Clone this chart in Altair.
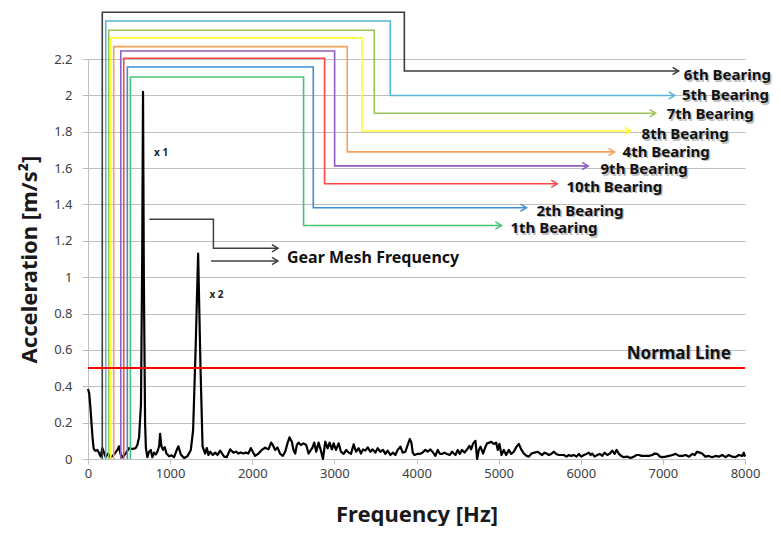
import altair as alt
import pandas as pd

FONT = "Noto Sans"

# ---- spectrum (Hz, m/s^2) ----
freq = [0, 15, 30, 42, 55, 68, 80, 93, 114, 134, 154, 175, 195, 215, 244, 276, 317, 358, 378, 398,
        418, 459, 500, 540, 581, 601, 622, 645, 660, 670, 680, 695, 705, 723, 744, 764, 784, 805, 825, 845,
        866, 878, 894, 914, 935, 955, 987, 1016, 1048, 1081, 1101, 1130, 1170, 1211, 1252, 1280, 1310, 1341, 1370, 1395,
        1426, 1447, 1467, 1487, 1520, 1548, 1577, 1609, 1633, 1658, 1690, 1731, 1751, 1771, 1804, 1832, 1860, 1893, 1921, 1953,
        1982, 2006, 2035, 2075, 2116, 2157, 2197, 2230, 2250, 2279, 2307, 2340, 2372, 2401, 2429, 2453, 2482, 2502, 2523, 2543,
        2563, 2592, 2624, 2657, 2685, 2714, 2730, 2755, 2779, 2808, 2836, 2861, 2889, 2918, 2942, 2970, 2991, 3019, 3052, 3080,
        3113, 3145, 3174, 3202, 3235, 3263, 3296, 3324, 3349, 3377, 3406, 3438, 3466, 3499, 3527, 3560, 3592, 3621, 3649, 3682,
        3714, 3743, 3771, 3804, 3832, 3865, 3893, 3918, 3938, 3954, 3975, 4007, 4040, 4072, 4108, 4137, 4169, 4202, 4230, 4259,
        4283, 4311, 4340, 4372, 4405, 4433, 4454, 4474, 4502, 4527, 4555, 4584, 4616, 4645, 4665, 4690, 4718, 4738, 4759, 4779,
        4811, 4840, 4860, 4889, 4909, 4941, 4970, 4990, 5010, 5035, 5063, 5092, 5124, 5153, 5185, 5218, 5246, 5275, 5307, 5340,
        5368, 5401, 5437, 5478, 5502, 5530, 5559, 5583, 5612, 5640, 5672, 5701, 5733, 5762, 5794, 5827, 5855, 5884, 5916, 5949,
        5977, 6006, 6038, 6071, 6099, 6120, 6140, 6168, 6201, 6233, 6262, 6290, 6323, 6355, 6384, 6412, 6436, 6465, 6493, 6526,
        6566, 6607, 6648, 6680, 6709, 6741, 6778, 6831, 6872, 6900, 6932, 6965, 6994, 7034, 7075, 7116, 7156, 7197, 7238, 7278,
        7319, 7359, 7388, 7416, 7449, 7477, 7518, 7559, 7600, 7641, 7681, 7722, 7763, 7803, 7844, 7885, 7925, 7966, 7986, 8000]
accel = [0.385, 0.36, 0.28, 0.2, 0.12, 0.06, 0.048, 0.045, 0.05, 0.033, 0.013, 0.06, 0.035, 0.01, 0.03, 0.008, 0.025, 0.05, 0.07, 0.025,
         0.01, 0.03, 0.06, 0.055, 0.06, 0.077, 0.12, 0.3, 1.1, 2.02, 1.0, 0.2, 0.06, 0.01, 0.04, 0.05, 0.01, 0.035, 0.025, 0.04,
         0.07, 0.138, 0.07, 0.05, 0.065, 0.03, 0.015, 0.02, 0.01, 0.05, 0.07, 0.025, 0.005, 0.015, 0.05, 0.16, 0.6, 1.13, 0.5, 0.07,
         0.03, 0.06, 0.022, 0.04, 0.022, 0.035, 0.022, 0.046, 0.03, 0.013, 0.01, 0.053, 0.044, 0.035, 0.04, 0.03, 0.036, 0.03, 0.035, 0.03,
         0.06, 0.04, 0.017, 0.03, 0.05, 0.062, 0.053, 0.09, 0.077, 0.05, 0.064, 0.028, 0.017, 0.04, 0.086, 0.119, 0.095, 0.05, 0.03, 0.077,
         0.09, 0.077, 0.086, 0.077, 0.03, 0.05, 0.06, 0.09, 0.04, 0.09, 0.046, 0.0, 0.095, 0.059, 0.09, 0.053, 0.086, 0.05, 0.086, 0.04,
         0.028, 0.05, 0.035, 0.028, 0.081, 0.04, 0.059, 0.03, 0.053, 0.046, 0.064, 0.04, 0.053, 0.035, 0.059, 0.04, 0.05, 0.028, 0.046, 0.022,
         0.035, 0.022, 0.05, 0.068, 0.035, 0.04, 0.077, 0.11, 0.09, 0.035, 0.022, 0.028, 0.028, 0.035, 0.05, 0.04, 0.053, 0.035, 0.017, 0.05,
         0.03, 0.028, 0.035, 0.028, 0.022, 0.04, 0.03, 0.022, 0.05, 0.028, 0.05, 0.035, 0.053, 0.072, 0.053, 0.086, 0.1, 0.0, 0.05, 0.068,
         0.03, 0.068, 0.086, 0.09, 0.095, 0.083, 0.09, 0.05, 0.083, 0.022, 0.05, 0.022, 0.05, 0.028, 0.04, 0.068, 0.083, 0.053, 0.03, 0.017,
         0.013, 0.03, 0.035, 0.04, 0.03, 0.022, 0.035, 0.03, 0.022, 0.028, 0.04, 0.028, 0.022, 0.022, 0.022, 0.013, 0.022, 0.017, 0.022, 0.013,
         0.028, 0.013, 0.022, 0.028, 0.035, 0.022, 0.03, 0.013, 0.022, 0.028, 0.017, 0.035, 0.022, 0.03, 0.046, 0.028, 0.05, 0.028, 0.017, 0.01,
         0.013, 0.006, 0.013, 0.022, 0.022, 0.017, 0.017, 0.017, 0.022, 0.03, 0.028, 0.013, 0.01, 0.013, 0.017, 0.022, 0.028, 0.017, 0.017, 0.022,
         0.013, 0.028, 0.022, 0.04, 0.035, 0.03, 0.013, 0.017, 0.01, 0.017, 0.013, 0.022, 0.01, 0.022, 0.013, 0.01, 0.022, 0.017, 0.035, 0.013]

# ---- bearing callouts ----
bearing_names = ["6th Bearing", "5th Bearing", "7th Bearing", "8th Bearing", "4th Bearing",
                 "9th Bearing", "10th Bearing", "2th Bearing", "1th Bearing"]
bearing_freq = [174, 216, 252, 277, 313, 399, 435, 479, 516]
bearing_top = [2.457, 2.409, 2.358, 2.316, 2.268, 2.244, 2.204, 2.156, 2.101]
bearing_elbow = [3852, 3681, 3486, 3336, 3157, 3003, 2881, 2743, 2625]
bearing_level = [2.134, 1.999, 1.902, 1.804, 1.689, 1.612, 1.514, 1.382, 1.284]
bearing_tip = [7192, 7143, 6912, 6607, 6412, 6091, 5714, 5339, 5034]
label_freq = [7255, 7233, 7046, 6741, 6509, 6241, 5827, 5461, 5144]
label_level = [2.112, 2.002, 1.897, 1.787, 1.690, 1.595, 1.498, 1.366, 1.270]
bearing_colors = ["#3c3c3c", "#5ab4d6", "#9bc45a", "#ffff33", "#f7a05a",
                  "#8e5fc0", "#ff4545", "#3d8fd9", "#45c475"]

# ---- gear mesh callout ----
gear_paths = [[(747, 1.318), (1527, 1.318), (1527, 1.159), (2313, 1.159)],
              [(1499, 1.089), (2313, 1.089)]]
gear_label = "Gear Mesh Frequency"
gear_label_pos = (2422, 1.105)
harmonic_labels = ["x 1", "x 2"]
harmonic_pos = [(805, 1.681), (1479, 0.902)]
normal_level = 0.5
normal_label = "Normal Line"
normal_label_pos = (6560, 0.578)

# ---- data frames ----
spec_df = pd.DataFrame({"f": freq, "a": accel})

rows = []
for i, name in enumerate(bearing_names):
    pts = [(bearing_freq[i], 0.0), (bearing_freq[i], bearing_top[i]),
           (bearing_elbow[i], bearing_top[i]), (bearing_elbow[i], bearing_level[i]),
           (bearing_tip[i], bearing_level[i])]
    for k, (f, a) in enumerate(pts):
        rows.append({"name": name, "k": k, "f": f, "a": a})
bear_df = pd.DataFrame(rows)
tip_df = pd.DataFrame({"name": bearing_names, "f": bearing_tip, "a": bearing_level})
lab_df = pd.DataFrame({"name": bearing_names, "f": label_freq, "a": label_level})

grows = []
for g, path in enumerate(gear_paths):
    for k, (f, a) in enumerate(path):
        grows.append({"g": g, "k": k, "f": f, "a": a})
gear_df = pd.DataFrame(grows)
gear_tip_df = pd.DataFrame({"f": [p[-1][0] for p in gear_paths], "a": [p[-1][1] for p in gear_paths]})

x_enc = alt.X("f:Q", scale=alt.Scale(domain=[0, 8000], nice=False),
              axis=alt.Axis(values=list(range(0, 8001, 1000)), grid=False, title="Frequency [Hz]",
                            format="d", labelFlush=False,
                            domainColor="#bfbfbf", tickColor="#bfbfbf", tickSize=5,
                            labelFont=FONT, labelFontSize=13, labelColor="#404040", labelPadding=3,
                            titleFont=FONT, titleFontSize=22, titleFontWeight="bold",
                            titleColor="#1a1a1a", titlePadding=24))
y_enc = alt.Y("a:Q", scale=alt.Scale(domain=[0, 2.2], nice=False),
              axis=alt.Axis(values=[0, 0.2, 0.4, 0.6, 0.8, 1.0, 1.2, 1.4, 1.6, 1.8, 2.0, 2.2],
                            format="~g", title="Acceleration [m/s²]", labelFlush=False,
                            gridColor="#bfbfbf", gridWidth=1,
                            domainColor="#bfbfbf", tickColor="#bfbfbf", tickSize=6,
                            labelFont=FONT, labelFontSize=13, labelColor="#404040", labelPadding=10,
                            titleFont=FONT, titleFontSize=22, titleFontWeight="bold",
                            titleColor="#1a1a1a", titlePadding=12))
color_enc = alt.Color("name:N", scale=alt.Scale(domain=bearing_names, range=bearing_colors), legend=None)

spectrum = alt.Chart(spec_df).mark_line(color="black", strokeWidth=2.2, strokeJoin="round").encode(
    x=x_enc, y=y_enc)

bear_lines = alt.Chart(bear_df).mark_line(strokeWidth=1.6, strokeJoin="miter").encode(
    x=x_enc, y=y_enc, color=color_enc, detail="name:N", order="k:Q")

arrow_shape = "M -1 -0.6 L 0 0 L -1 0.6"
bear_tips = alt.Chart(tip_df).mark_point(shape=arrow_shape, filled=False, size=144,
                                         strokeWidth=1.5, opacity=1).encode(
    x=x_enc, y=y_enc, color=color_enc)

LABEL_SIZE = 15
bear_shadow = alt.Chart(lab_df).mark_text(align="left", baseline="middle", dx=1.5, dy=1.5, font=FONT,
                                          fontSize=LABEL_SIZE, fontWeight="bold", color="#808080",
                                          opacity=0.5).encode(x=x_enc, y=y_enc, text="name:N")
bear_text = alt.Chart(lab_df).mark_text(align="left", baseline="middle", font=FONT,
                                        fontSize=LABEL_SIZE, fontWeight="bold", color="#111111").encode(
    x=x_enc, y=y_enc, text="name:N")

gear_lines = alt.Chart(gear_df).mark_line(color="#404040", strokeWidth=1.5, strokeJoin="miter").encode(
    x=x_enc, y=y_enc, detail="g:N", order="k:Q")
gear_tips = alt.Chart(gear_tip_df).mark_point(shape=arrow_shape, filled=False, size=144, strokeWidth=1.5,
                                              color="#404040", opacity=1).encode(x=x_enc, y=y_enc)

gear_text_df = pd.DataFrame({"f": [gear_label_pos[0]], "a": [gear_label_pos[1]], "t": [gear_label]})
gear_text = alt.Chart(gear_text_df).mark_text(align="left", baseline="middle", font=FONT, fontSize=16,
                                              fontWeight="bold", color="#111111").encode(
    x=x_enc, y=y_enc, text="t:N")

harm_df = pd.DataFrame({"f": [p[0] for p in harmonic_pos], "a": [p[1] for p in harmonic_pos],
                        "t": harmonic_labels})
harm_text = alt.Chart(harm_df).mark_text(align="left", baseline="middle", font=FONT, fontSize=10,
                                         fontWeight="bold", color="#222222").encode(
    x=x_enc, y=y_enc, text="t:N")

normal_df = pd.DataFrame({"a": [normal_level]})
normal_rule = alt.Chart(normal_df).mark_rule(color="#ff0000", strokeWidth=2).encode(y=y_enc)

normal_text_df = pd.DataFrame({"f": [normal_label_pos[0]], "a": [normal_label_pos[1]], "t": [normal_label]})
normal_shadow = alt.Chart(normal_text_df).mark_text(align="left", baseline="middle", dx=1.5, dy=1.5, font=FONT,
                                                    fontSize=17, fontWeight="bold", color="#808080",
                                                    opacity=0.5).encode(x=x_enc, y=y_enc, text="t:N")
normal_text = alt.Chart(normal_text_df).mark_text(align="left", baseline="middle", font=FONT, fontSize=17,
                                                  fontWeight="bold", color="#111111").encode(
    x=x_enc, y=y_enc, text="t:N")

chart = alt.layer(
    spectrum, bear_lines, bear_tips, gear_lines, gear_tips, normal_rule,
    bear_shadow, bear_text, gear_text, harm_text, normal_shadow, normal_text
).properties(
    width=657, height=400,
    padding={"left": 80, "top": 51, "right": 28, "bottom": 67},
    autosize=alt.AutoSizeParams(type="none"),
    background="white",
).configure_view(stroke=None)

chart.save("out.html", embed_options={"renderer": "svg", "actions": False})
